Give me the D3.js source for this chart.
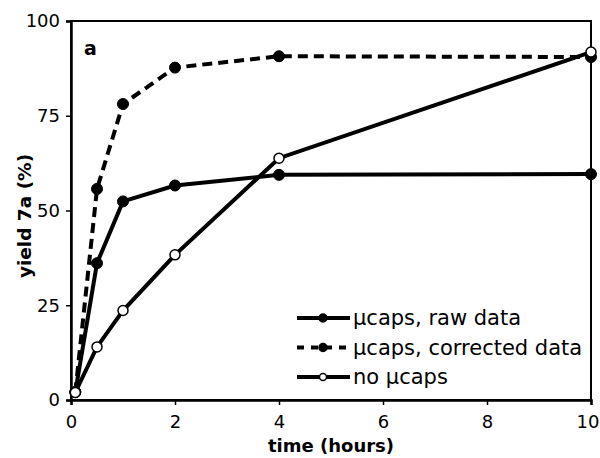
<!DOCTYPE html>
<html><head><meta charset="utf-8">
<script src="https://cdn.jsdelivr.net/npm/d3@7"></script>
<style>body{margin:0;background:#fff}svg{display:block}</style>
</head><body>
<script>
const times = [0.083, 0.5, 1, 2, 4, 10];
const rawData = [2.1, 36.1, 52.4, 56.6, 59.4, 59.6];
const correctedData = [2.1, 55.7, 78.1, 87.7, 90.7, 90.5];
const noCaps = [2.0, 14.0, 23.6, 38.3, 63.8, 91.8];
const xTicks = [0, 2, 4, 6, 8, 10];
const yTicks = [0, 25, 50, 75, 100];
const seriesNames = ["µcaps, raw data", "µcaps, corrected data", "no µcaps"];

const W = 600, H = 458;
const m = {l: 71, r: 9, t: 21, b: 58};
const svg = d3.select("body").append("svg").attr("width", W).attr("height", H);
const x = d3.scaleLinear().domain([0, 10]).range([m.l, W - m.r]);
const y = d3.scaleLinear().domain([0, 100]).range([H - m.b, m.t]);
const font = "DejaVu Sans, Verdana, sans-serif";

// frame
svg.append("rect").attr("x", x(0)).attr("y", y(100)).attr("width", x(10) - x(0)).attr("height", y(0) - y(100))
  .attr("fill", "none").attr("stroke", "#000").attr("stroke-width", 2);

const xa = svg.append("g").attr("transform", `translate(0,${y(0)})`)
  .call(d3.axisBottom(x).tickValues(xTicks).tickSize(5).tickPadding(10).tickFormat(d3.format("d")));
const ya = svg.append("g").attr("transform", `translate(${x(0)},0)`)
  .call(d3.axisLeft(y).tickValues(yTicks).tickSize(5).tickPadding(6).tickFormat(d3.format("d")));
[xa, ya].forEach(a => {
  a.select(".domain").attr("stroke-width", 2.5);
  a.selectAll(".tick line").attr("stroke-width", 1.5);
  a.selectAll("text").attr("font-family", font).attr("font-size", 18).attr("fill", "#000");
});
// keep the last x label inside the page
xa.selectAll(".tick text").filter(d => d === 10).attr("text-anchor", "end").attr("dx", 8);

svg.append("text").attr("x", (x(0) + x(10)) / 2).attr("y", 452).attr("text-anchor", "middle")
  .attr("font-family", font).attr("font-weight", "bold").attr("font-size", 18).text("time (hours)");
svg.append("text").attr("transform", `translate(31,216) rotate(-90)`).attr("text-anchor", "middle")
  .attr("font-family", font).attr("font-weight", "bold").attr("font-size", 18.5).text("yield 7a (%)");
svg.append("text").attr("x", 84).attr("y", 55).attr("font-family", font).attr("font-weight", "bold")
  .attr("font-size", 19).text("a");

const series = [
  {name: seriesNames[0], vals: rawData, dash: null, filled: true},
  {name: seriesNames[1], vals: correctedData, dash: "10,6", filled: true},
  {name: seriesNames[2], vals: noCaps, dash: null, filled: false}
];
const line = d3.line().x(d => x(d[0])).y(d => y(d[1]));
series.forEach(s => {
  const pts = times.map((t, i) => [t, s.vals[i]]);
  svg.append("path").datum(pts).attr("d", line).attr("fill", "none").attr("stroke", "#000")
    .attr("stroke-width", 4).attr("stroke-dasharray", s.dash);
  svg.selectAll(null).data(pts).enter().append("circle")
    .attr("cx", d => x(d[0])).attr("cy", d => y(d[1])).attr("r", s.filled ? 5.5 : 5)
    .attr("fill", s.filled ? "#000" : "#fff").attr("stroke", "#000").attr("stroke-width", s.filled ? 1 : 1.5);
});

// legend
const lg = svg.append("g");
series.forEach((s, i) => {
  const yy = 318 + i * 29.5;
  lg.append("line").attr("x1", 297).attr("x2", 350).attr("y1", yy).attr("y2", yy)
    .attr("stroke", "#000").attr("stroke-width", 4).attr("stroke-dasharray", s.dash ? "7,7" : null);
  lg.append("circle").attr("cx", 323).attr("cy", yy).attr("r", s.filled ? 4 : 3.5)
    .attr("fill", s.filled ? "#000" : "#fff").attr("stroke", "#000").attr("stroke-width", 1.5);
  lg.append("text").attr("x", 353).attr("y", yy + 7).attr("font-family", font).attr("font-size", 21).text(s.name);
});
</script>
</body></html>
